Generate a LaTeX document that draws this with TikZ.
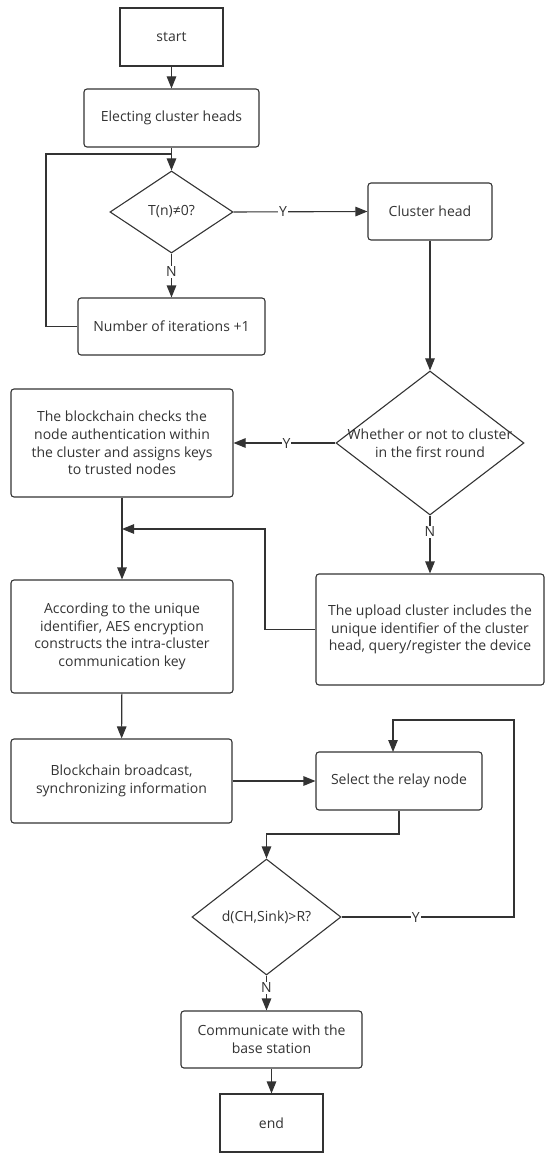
\documentclass[tikz,border=0pt]{standalone}
\usepackage{fontspec}
\setmainfont{Open Sans}
\usepackage{tikz}
\usetikzlibrary{shapes.geometric,arrows.meta,calc}
\definecolor{ink}{HTML}{333333}

\begin{document}
\begin{tikzpicture}[x=1pt,y=-1pt,line width=1.1pt,draw=ink,text=ink,
	font=\fontsize{14}{17.6}\selectfont,
	box/.style={draw=ink,rounded corners=3pt,inner sep=0pt,align=center},
	term/.style={draw=ink,inner sep=0pt,align=center},
	test/.style={draw=ink,diamond,inner sep=0pt},
	flow/.style={draw=ink,-{Triangle[length=12pt,width=9.5pt]}},
	tag/.style={fill=white,inner sep=1pt}]
	\useasboundingbox (0,0) rectangle (550,1158);
	% left column
	\node[term,minimum width=103pt,minimum height=58pt] (start) at (171.5,37) {start};
	\node[box,minimum width=175pt,minimum height=58pt] (elect) at (171.5,118) {Electing cluster heads};
	\node[test,minimum width=123pt,minimum height=82pt] (q1) at (171.5,212) {};
	\node at (q1) {T(n)≠0?};
	\node[box,minimum width=187pt,minimum height=57pt] (iter) at (171.5,326.5) {Number of iterations +1};
	\node[box,minimum width=124pt,minimum height=57pt] (head) at (430,211.5) {Cluster head};
	\node[test,minimum width=188pt,minimum height=144pt] (q2) at (430,443) {};
	\node[align=center] at (q2) {Whether or not to cluster\\in the first round};
	\node[box,minimum width=222pt,minimum height=108pt] (bc) at (122,443) {The blockchain checks the\\node authentication within\\the cluster and assigns keys\\to trusted nodes};
	\node[box,minimum width=228pt,minimum height=111pt] (upl) at (430,629.5) {The upload cluster includes the\\unique identifier of the cluster\\head, query/register the device};
	\node[box,minimum width=222pt,minimum height=113pt] (aes) at (122,636.5) {According to the unique\\identifier, AES encryption\\constructs the intra-cluster\\communication key};
	\node[box,minimum width=221pt,minimum height=84pt] (bcast) at (121.5,781) {Blockchain broadcast,\\synchronizing information};
	\node[box,minimum width=166pt,minimum height=58pt] (relay) at (399,781) {Select the relay node};
	\node[test,minimum width=149pt,minimum height=116pt] (q3) at (266.5,917) {};
	\node at (q3) {d(CH,Sink)>R?};
	\node[box,minimum width=181pt,minimum height=57pt] (comm) at (271.5,1039.5) {Communicate with the\\base station};
	\node[term,minimum width=103pt,minimum height=58pt] (end) at (271.5,1123) {end};
	
	\coordinate (merge) at (122,529);
	\coordinate (top1) at (171.5,154);
	% connectors
	\draw[flow] (start) -- (elect);
	\draw[flow] (elect) -- (q1);
	\draw[flow] (q1) -- (iter) node[tag,pos=0.42]{N};
	\draw (iter.west) -| (46,154) -- (top1);
	\draw[flow] (q1.east) -- (head.west) node[tag,pos=0.37]{Y};
	\draw[flow] (head) -- (q2);
	\draw[flow] (q2.west) -- (bc.east) node[tag,pos=0.48]{Y};
	\draw[flow] (q2.south) -- (upl.north) node[tag,pos=0.28]{N};
	\draw[flow] (bc) -- (aes);
	\draw[flow] (upl.west) -- (265,629.5) -- (265,529) -- (merge);
	\draw[flow] (aes) -- (bcast);
	\draw[flow] (bcast.east) -- (relay.west);
	\draw[flow] (relay.south) -- (399,834) -- (266.5,834) -- (q3.north);
	\draw[flow] (q3.east) -- (514,917) node[tag,pos=0.43]{Y} -- (514,720) -- (393,720) -- (393,752);
	\draw[flow] (q3.south) -- (q3.south |- comm.north) node[tag,pos=0.35]{N};
	\draw[flow] (comm) -- (end);
\end{tikzpicture}
\end{document}
